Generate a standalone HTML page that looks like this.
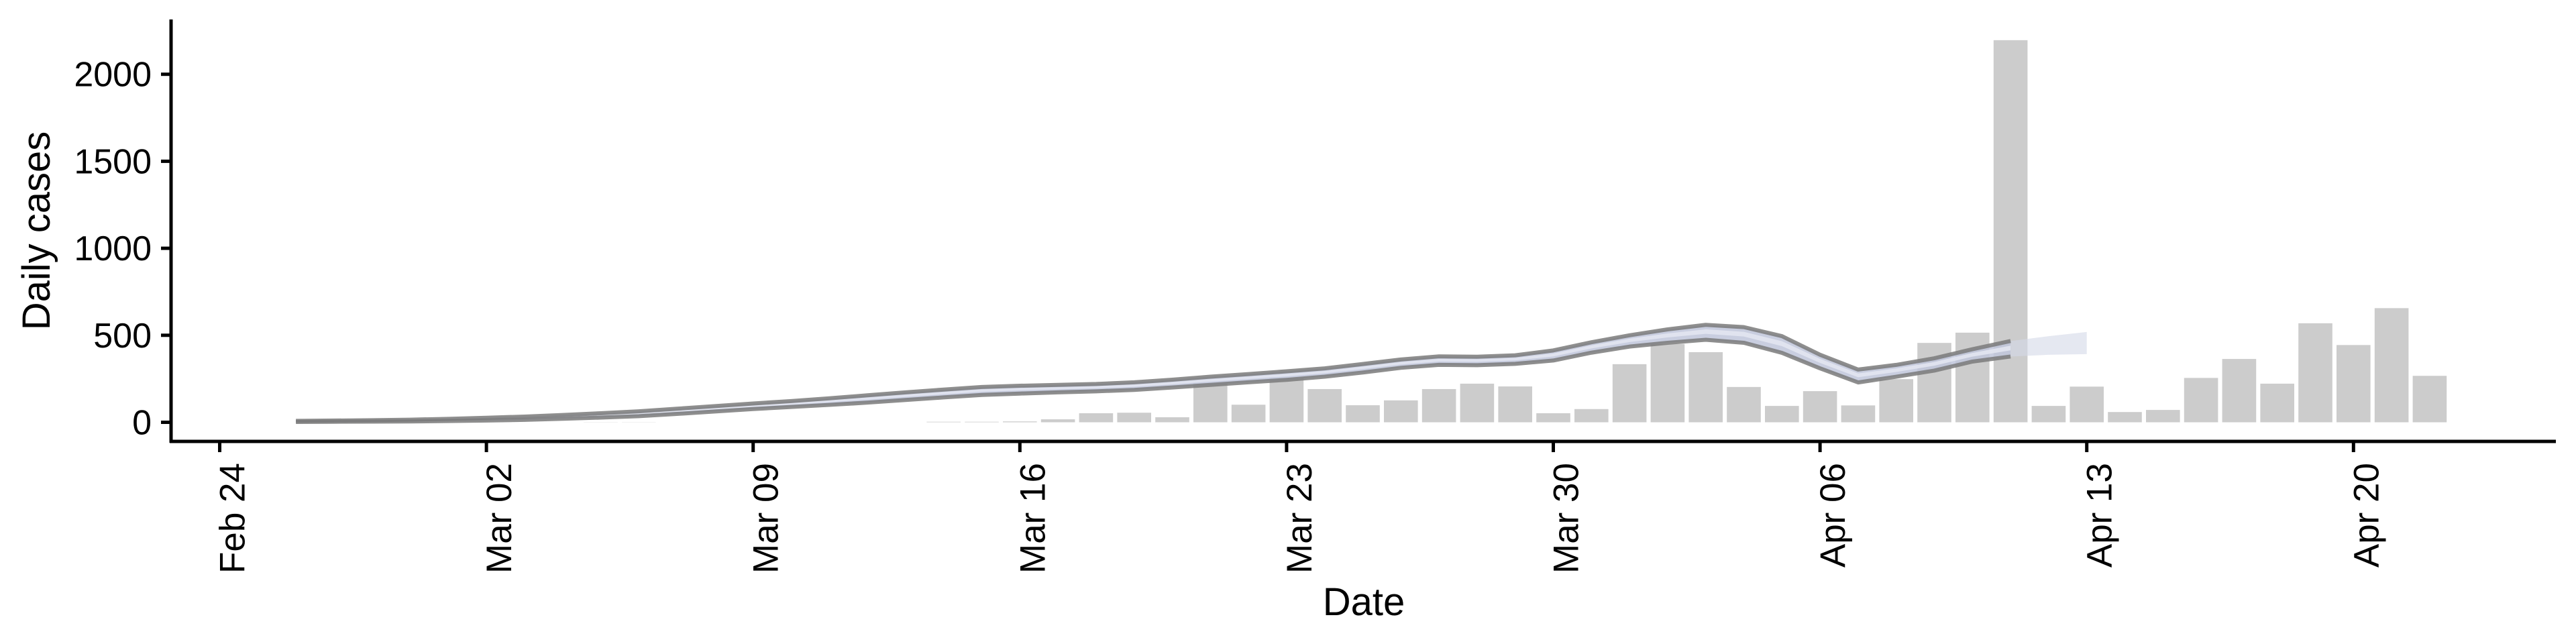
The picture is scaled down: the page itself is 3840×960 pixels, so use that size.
<!DOCTYPE html>
<html><head><meta charset="utf-8"><style>
html,body{margin:0;padding:0;background:#fff;}
svg{display:block;font-family:"Liberation Sans",Arial,sans-serif;}
</style></head><body>
<svg id="chart" width="3840" height="960" viewBox="0 0 3840 960" xmlns="http://www.w3.org/2000/svg">
<g id="bars"></g>
<g id="bands"></g>
<g id="axes"></g>
<text x="0" y="0" transform="translate(74,344) rotate(-90)" font-size="58" text-anchor="middle">Daily cases</text>
<text x="2033" y="917" font-size="58" text-anchor="middle">Date</text>
</svg>
<script>
// data: day offsets from Feb 24, 2020
const barDays = [10,11,19,20,21,22,23,24,25,26,27,28,29,30,31,32,33,34,35,36,37,38,39,40,41,42,43,44,45,46,47,48,49,50,51,52,53,54,55,56,57,58];
const barValues = [1,1,3,3,5,17,52,55,29,225,101,255,191,98,126,191,222,206,52,76,334,450,403,203,94,179,97,248,456,515,2196,94,205,59,71,255,364,222,569,444,656,267];
const lineDays = [2,3,4,5,6,7,8,9,10,11,12,13,14,15,16,17,18,19,20,21,22,23,24,25,26,27,28,29,30,31,32,33,34,35,36,37,38,39,40,41,42,43,44,45,46,47];
const upperValues = [8,10,12,15,20,26,33,42,52,63,78,93,108,122,138,155,172,188,203,210,215,220,230,245,262,277,293,310,335,361,379,377,385,413,460,500,534,560,547,495,388,303,330,368,420,467];
const lowerValues = [2,3,4,5,7,10,14,20,27,35,48,62,76,88,100,113,128,143,157,165,172,178,186,200,215,230,244,262,286,313,330,328,336,355,400,435,457,474,457,399,310,229,262,297,349,378];
const fcDays = [47,48,49];
const fcUpper = [467,495,519];
const fcLower = [378,388,392];
const yTicks = [0,500,1000,1500,2000];
const xTickDays = [0,7,14,21,28,35,42,49,56];
const xTickLabels = ["Feb 24","Mar 02","Mar 09","Mar 16","Mar 23","Mar 30","Apr 06","Apr 13","Apr 20"];

const NS="http://www.w3.org/2000/svg";
const X0=327.5, DAY=56.8, Y0=629.5, YS=0.2594;
const xs=d=>X0+d*DAY, ys=v=>Y0-v*YS;
function mk(tag,attrs,parent){const e=document.createElementNS(NS,tag);for(const k in attrs)e.setAttribute(k,attrs[k]);parent.appendChild(e);return e;}
const gb=document.getElementById('bars');
barDays.forEach((d,i)=>{
  const v=barValues[i];
  const r=mk('rect',{x:xs(d)-25.3,y:ys(v),width:50.6,height:v*YS,fill:'#cccccc'},gb);
  
  
});
const gl=document.getElementById('bands');
function band(days,up,lo,fill,op,name){
  let pts=days.map((d,i)=>xs(d)+','+ys(up[i]));
  pts=pts.concat(days.map((d,i)=>xs(d)+','+ys(lo[i])).reverse());
  const p=mk('polygon',{points:pts.join(' '),fill:fill,'fill-opacity':op},gl);
  
  
}
band(lineDays,upperValues,lowerValues,'#bfc6da',0.85,'estimate-band');
const mu=upperValues.map((u,i)=>u-(u-lowerValues[i])*0.3), ml=upperValues.map((u,i)=>u-(u-lowerValues[i])*0.6);
band(lineDays,mu,ml,'#e6e9f2',0.8,'estimate-inner-band');
band(fcDays,fcUpper,fcLower,'#d3d8e8',0.6,'forecast-band');
function line(days,vals,name){
  const p=mk('polyline',{points:days.map((d,i)=>xs(d)+','+ys(vals[i])).join(' '),fill:'none',stroke:'#7a7a7a','stroke-opacity':0.85,'stroke-width':6,'stroke-linejoin':'round'},gl);
  
  
}
line(lineDays,upperValues,'upper-bound-line');
line(lineDays,lowerValues,'lower-bound-line');
const ga=document.getElementById('axes');
const ya=mk('line',{x1:255,y1:29,x2:255,y2:660,stroke:'#000','stroke-width':5},ga);


const xa=mk('line',{x1:253,y1:658,x2:3810,y2:658,stroke:'#000','stroke-width':5},ga);


yTicks.forEach(v=>{
  const t=mk('line',{x1:240,y1:ys(v),x2:255,y2:ys(v),stroke:'#000','stroke-width':5},ga);
  
  
  const l=mk('text',{x:226,y:ys(v)+18,'font-size':52,'text-anchor':'end'},ga);
  l.textContent=v;
  
  
});
xTickDays.forEach((d,i)=>{
  const x=xs(d);
  const t=mk('line',{x1:x,y1:658,x2:x,y2:674,stroke:'#000','stroke-width':5},ga);
  
  
  const l=mk('text',{x:0,y:0,'font-size':53,'text-anchor':'end',transform:'translate('+(x+37)+',690) rotate(-90)'},ga);
  l.textContent=xTickLabels[i];
  
  
});
</script>
</body></html>
